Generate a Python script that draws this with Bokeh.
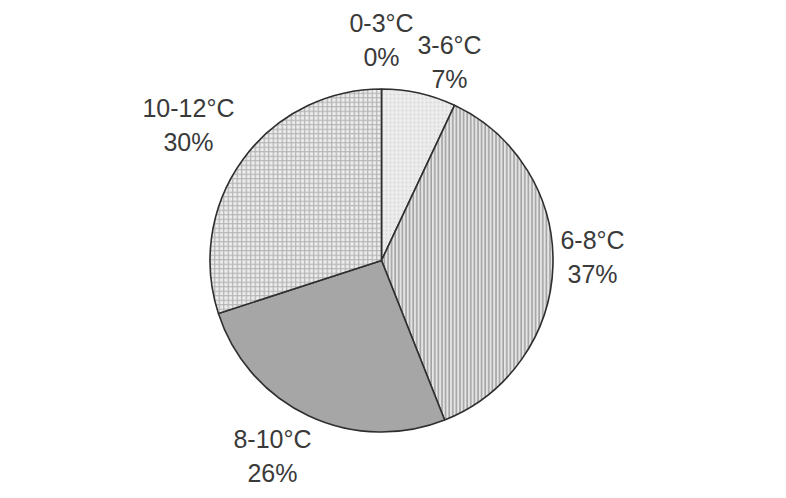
import math
from bokeh.plotting import figure
from bokeh.models import ColumnDataSource, Range1d
from bokeh.core.properties import value
from bokeh.embed import file_html
from bokeh.resources import INLINE

# ---- data ----
categories = ["0-3°C", "3-6°C", "6-8°C", "8-10°C", "10-12°C"]
percents = [0, 7, 37, 26, 30]
pct_labels = ["0%", "7%", "37%", "26%", "30%"]

# ---- styles ----
fill_colors = ["#f2f2f2", "#ececec", "#e4e4e4", "#a6a6a6", "#ededed"]
hatch_patterns = [" ", "dot", "vertical_line", " ", "cross"]
hatch_colors = ["#dddddd", "#d6d6d6", "#9a9a9a", "#999999", "#b4b4b4"]
hatch_scales = [4, 4, 3.6, 4, 4.5]
hatch_weights = [1, 0.6, 1.4, 1, 1.3]
label_dx = [0, 30.6, 39.6, -36, -54.3]
label_dy = [-49.5, -31.6, -8.4, 40.3, -34.2]

W, H = 770, 490
CX, CY_PAGE, R = 381, 260, 171.5
PAGE_H = 498

def to_data_y(page_y):
    return PAGE_H - page_y

p = figure(width=W, height=H, output_backend="svg", toolbar_location=None,
           x_range=Range1d(0, W), y_range=Range1d(PAGE_H - H, PAGE_H),
           min_border=0)
p.axis.visible = False
p.grid.visible = False
p.outline_line_color = None
p.background_fill_color = "white"
p.border_fill_color = "white"

total = sum(percents)
cum = 0.0
ws = dict(x=[], y=[], start=[], end=[], fill=[], hatch=[], hcol=[], hscale=[], hweight=[])
lab = dict(x=[], y1=[], y2=[], name=[], pct=[])
for i, v in enumerate(percents):
    a0 = cum / total * 360.0
    a1 = (cum + v) / total * 360.0
    cum += v
    mid = math.radians((a0 + a1) / 2)
    ex = CX + R * math.sin(mid)
    ey = CY_PAGE - R * math.cos(mid)
    lx = ex + label_dx[i]
    ly = ey + label_dy[i]
    lab["x"].append(lx)
    lab["y1"].append(to_data_y(ly - 17))
    lab["y2"].append(to_data_y(ly + 17))
    lab["name"].append(categories[i])
    lab["pct"].append(pct_labels[i])
    if v <= 0:
        continue
    ws["x"].append(CX)
    ws["y"].append(to_data_y(CY_PAGE))
    ws["start"].append(math.radians(90 - a1))
    ws["end"].append(math.radians(90 - a0))
    ws["fill"].append(fill_colors[i])
    ws["hatch"].append(hatch_patterns[i])
    ws["hcol"].append(hatch_colors[i])
    ws["hscale"].append(hatch_scales[i])
    ws["hweight"].append(hatch_weights[i])

src = ColumnDataSource(ws)
p.wedge(x="x", y="y", radius=R, start_angle="start", end_angle="end",
        direction="anticlock", source=src,
        fill_color="fill", hatch_pattern="hatch", hatch_color="hcol",
        hatch_scale="hscale", hatch_weight="hweight",
        line_color="#2f2f2f", line_width=1.6)

lsrc = ColumnDataSource(lab)
for col, ycol in (("name", "y1"), ("pct", "y2")):
    p.text(x="x", y=ycol, text=col, source=lsrc,
           text_font=value("Liberation Sans"), text_font_size="25px",
           text_color="#3a3a3a", text_align="center", text_baseline="middle")

open("out.html", "w").write(file_html(p, INLINE))
